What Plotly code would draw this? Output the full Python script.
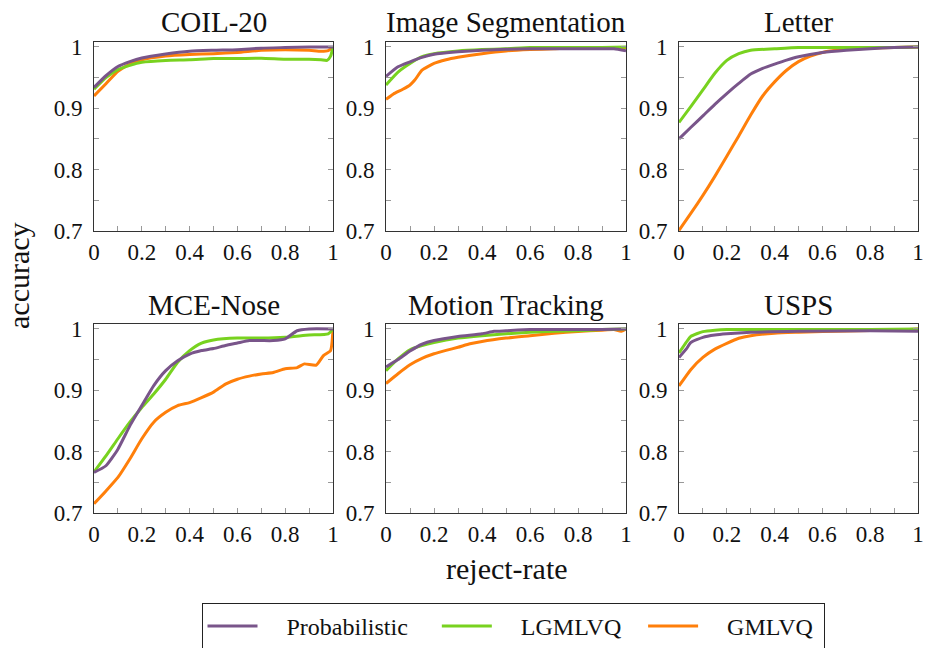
import plotly.graph_objects as go

W, H = 926, 648

titles = ["COIL-20", "Image Segmentation", "Letter", "MCE-Nose", "Motion Tracking", "USPS"]
series_names = ["Probabilistic", "LGMLVQ", "GMLVQ"]
colors = ["#79558a", "#78d21f", "#ff7f0a"]

x_tickvals = [0, 0.1, 0.2, 0.3, 0.4, 0.5, 0.6, 0.7, 0.8, 0.9, 1.0]
x_ticktext = ["0", "", "0.2", "", "0.4", "", "0.6", "", "0.8", "", "1"]
y_tickvals = [0.7, 0.75, 0.8, 0.85, 0.9, 0.95, 1.0]
y_ticktext = ["0.7", "", "0.8", "", "0.9", "", "1"]

# ---- COIL-20
coil_x_p = [0, 0.05, 0.1, 0.15, 0.2, 0.3, 0.4, 0.5, 0.6, 0.7, 0.8, 0.9, 1.0]
coil_y_p = [0.934, 0.953, 0.968, 0.976, 0.982, 0.9885, 0.993, 0.9945, 0.9955, 0.998, 0.999, 1.0, 1.0]
coil_x_l = [0, 0.05, 0.1, 0.15, 0.2, 0.3, 0.4, 0.5, 0.6, 0.7, 0.8, 0.9, 0.95, 0.975, 0.99, 1.0]
coil_y_l = [0.931, 0.950, 0.963, 0.970, 0.975, 0.978, 0.979, 0.981, 0.981, 0.9815, 0.980, 0.980, 0.979, 0.978, 0.985, 1.0]
coil_x_g = [0, 0.05, 0.1, 0.15, 0.2, 0.3, 0.4, 0.5, 0.6, 0.7, 0.8, 0.9, 0.95, 0.98, 1.0]
coil_y_g = [0.920, 0.940, 0.960, 0.972, 0.979, 0.985, 0.9875, 0.989, 0.991, 0.9945, 0.9955, 0.9945, 0.993, 0.994, 1.0]

# ---- Image Segmentation
seg_x_p = [0, 0.05, 0.1, 0.15, 0.2, 0.3, 0.4, 0.5, 0.6, 0.7, 0.8, 0.9, 0.95, 1.0]
seg_y_p = [0.952, 0.9676, 0.9757, 0.983, 0.988, 0.992, 0.9946, 0.996, 0.997, 0.997, 0.997, 0.997, 0.997, 0.9935]
seg_x_l = [0, 0.05, 0.1, 0.15, 0.2, 0.3, 0.4, 0.5, 0.6, 0.7, 0.8, 0.9, 1.0]
seg_y_l = [0.938, 0.959, 0.973, 0.984, 0.989, 0.9935, 0.9957, 0.997, 0.999, 0.999, 0.999, 0.999, 1.0]
seg_x_g = [0, 0.03, 0.07, 0.1, 0.12, 0.15, 0.2, 0.25, 0.3, 0.4, 0.5, 0.6, 0.7, 0.8, 0.9, 1.0]
seg_y_g = [0.9146, 0.923, 0.931, 0.938, 0.946, 0.962, 0.973, 0.979, 0.983, 0.989, 0.9935, 0.9957, 0.997, 0.999, 0.999, 0.999]

# ---- Letter
let_x_p = [0, 0.05, 0.1, 0.15, 0.2, 0.25, 0.3, 0.35, 0.4, 0.45, 0.5, 0.6, 0.7, 0.8, 0.9, 1.0]
let_y_p = [0.850, 0.869, 0.8876, 0.9065, 0.924, 0.9405, 0.9557, 0.965, 0.972, 0.9785, 0.984, 0.991, 0.9946, 0.997, 0.999, 1.0]
let_x_l = [0, 0.05, 0.1, 0.15, 0.2, 0.25, 0.3, 0.4, 0.5, 0.6, 0.7, 0.8, 0.9, 1.0]
let_y_l = [0.877, 0.903, 0.930, 0.957, 0.978, 0.989, 0.9946, 0.997, 0.999, 0.999, 0.999, 0.999, 0.999, 1.0]
let_x_g = [0, 0.05, 0.1, 0.15, 0.2, 0.25, 0.3, 0.35, 0.4, 0.45, 0.5, 0.55, 0.6, 0.7, 0.8, 0.9, 1.0]
let_y_g = [0.701, 0.729, 0.758, 0.789, 0.822, 0.855, 0.889, 0.920, 0.943, 0.962, 0.976, 0.985, 0.991, 0.996, 0.998, 0.999, 1.0]

# ---- MCE-Nose
mce_x_p = [0, 0.05, 0.1, 0.15, 0.2, 0.25, 0.3, 0.35, 0.4, 0.45, 0.5, 0.55, 0.6, 0.65, 0.7, 0.75, 0.8, 0.85, 0.9, 1.0]
mce_y_p = [0.766, 0.777, 0.804, 0.842, 0.875, 0.9076, 0.932, 0.948, 0.959, 0.9647, 0.968, 0.973, 0.977, 0.981, 0.981, 0.981, 0.9837, 0.997, 1.0, 1.0]
mce_x_l = [0, 0.05, 0.1, 0.15, 0.2, 0.25, 0.3, 0.35, 0.4, 0.45, 0.5, 0.6, 0.7, 0.8, 0.9, 0.98, 1.0]
mce_y_l = [0.767, 0.793, 0.821, 0.848, 0.872, 0.894, 0.918, 0.9457, 0.9647, 0.977, 0.982, 0.985, 0.985, 0.9864, 0.990, 0.992, 1.0]
mce_x_g = [0, 0.05, 0.1, 0.15, 0.2, 0.25, 0.3, 0.35, 0.4, 0.45, 0.5, 0.55, 0.6, 0.65, 0.7, 0.75, 0.8, 0.85, 0.88, 0.93, 0.96, 0.99, 1.0]
mce_y_g = [0.715, 0.736, 0.758, 0.788, 0.821, 0.848, 0.864, 0.875, 0.880, 0.888, 0.897, 0.910, 0.918, 0.923, 0.9266, 0.929, 0.935, 0.937, 0.943, 0.941, 0.9565, 0.965, 1.0]

# ---- Motion Tracking
mot_x_p = [0, 0.05, 0.1, 0.15, 0.2, 0.3, 0.4, 0.45, 0.5, 0.6, 0.7, 0.8, 0.9, 1.0]
mot_y_p = [0.938, 0.950, 0.964, 0.975, 0.981, 0.9876, 0.992, 0.996, 0.997, 0.999, 0.999, 0.999, 0.999, 1.0]
mot_x_l = [0, 0.05, 0.1, 0.15, 0.2, 0.3, 0.4, 0.5, 0.6, 0.7, 0.8, 0.9, 1.0]
mot_y_l = [0.932, 0.951, 0.966, 0.973, 0.978, 0.985, 0.989, 0.992, 0.9946, 0.996, 0.997, 0.999, 1.0]
mot_x_g = [0, 0.05, 0.1, 0.15, 0.2, 0.25, 0.3, 0.35, 0.4, 0.5, 0.6, 0.7, 0.8, 0.9, 0.95, 0.98, 1.0]
mot_y_g = [0.911, 0.927, 0.9416, 0.952, 0.9595, 0.965, 0.970, 0.9757, 0.9795, 0.985, 0.989, 0.993, 0.9957, 0.998, 0.999, 0.996, 1.0]

# ---- USPS
usps_x_p = [0, 0.03, 0.05, 0.1, 0.15, 0.2, 0.3, 0.5, 0.8, 1.0]
usps_y_p = [0.9535, 0.967, 0.978, 0.9863, 0.990, 0.992, 0.9945, 0.996, 0.997, 0.996]
usps_x_l = [0, 0.03, 0.05, 0.1, 0.15, 0.2, 0.5, 0.8, 1.0]
usps_y_l = [0.9607, 0.978, 0.988, 0.9956, 0.998, 0.999, 0.999, 0.999, 1.0]
usps_x_g = [0, 0.05, 0.1, 0.15, 0.2, 0.25, 0.3, 0.4, 0.5, 0.7, 0.9, 1.0]
usps_y_g = [0.907, 0.934, 0.9535, 0.967, 0.9765, 0.9847, 0.989, 0.993, 0.9945, 0.9967, 0.998, 1.0]

panels = [
    [(coil_x_p, coil_y_p), (coil_x_l, coil_y_l), (coil_x_g, coil_y_g)],
    [(seg_x_p, seg_y_p), (seg_x_l, seg_y_l), (seg_x_g, seg_y_g)],
    [(let_x_p, let_y_p), (let_x_l, let_y_l), (let_x_g, let_y_g)],
    [(mce_x_p, mce_y_p), (mce_x_l, mce_y_l), (mce_x_g, mce_y_g)],
    [(mot_x_p, mot_y_p), (mot_x_l, mot_y_l), (mot_x_g, mot_y_g)],
    [(usps_x_p, usps_y_p), (usps_x_l, usps_y_l), (usps_x_g, usps_y_g)],
]

# pixel layout of each axis box
col_px = [(94, 333), (386, 626), (679, 918)]
row_px = [(42, 231), (324, 513)]
title_cy = [22, 305]

# legend label padding (en / thin spaces) to reproduce the entry spacing
lead_pad = "\u2002\u2002"
trail_pad = ["\u2002\u2002", "\u2002\u2009", "\u2009"]

FONT = "Liberation Serif"
fig = go.Figure()
annotations = []

for i, (title, data) in enumerate(zip(titles, panels)):
    r, c = divmod(i, 3)
    ax = "" if i == 0 else str(i + 1)
    x0, x1 = col_px[c]
    yt, yb = row_px[r]
    xd = [x0 / W, x1 / W]
    yd = [1 - yb / H, 1 - yt / H]
    for k in [2, 1, 0]:
        xs, ys = data[k]
        fig.add_trace(go.Scatter(
            x=xs, y=ys, mode="lines", name=lead_pad + series_names[k] + trail_pad[k],
            line=dict(color=colors[k], width=3, shape="spline", smoothing=0.5),
            xaxis="x" + ax, yaxis="y" + ax,
            showlegend=(i == 0), legendrank=k + 1, hoverinfo="skip",
        ))
    common = dict(showline=True, linecolor="#333333", linewidth=1, mirror=True,
                  ticks="inside", ticklen=5, tickcolor="#999999", tickwidth=1,
                  showgrid=False, zeroline=False, automargin=False,
                  tickfont=dict(family=FONT, size=23, color="#111111"))
    fig.update_layout(**{
        "xaxis" + ax: dict(domain=xd, range=[0, 1], tickmode="array",
                           tickvals=x_tickvals, ticktext=x_ticktext,
                           anchor="y" + ax, **common),
        "yaxis" + ax: dict(domain=yd, range=[0.7, 1.008], tickmode="array",
                           tickvals=y_tickvals, ticktext=y_ticktext,
                           anchor="x" + ax, ticklabelstandoff=6,
                           **{**common, "mirror": "ticks"}),
    })
    annotations.append(dict(text=title, x=(xd[0] + xd[1]) / 2, y=1 - title_cy[r] / H,
                            xref="paper", yref="paper", showarrow=False,
                            xanchor="center", yanchor="middle",
                            font=dict(family=FONT, size=29, color="#111111")))

annotations.append(dict(text="accuracy", x=18 / W, y=1 - 276 / H, xref="paper", yref="paper",
                        showarrow=False, textangle=-90, xanchor="center", yanchor="middle",
                        font=dict(family=FONT, size=30, color="#111111")))
annotations.append(dict(text="reject-rate", x=507 / W, y=1 - 568 / H, xref="paper", yref="paper",
                        showarrow=False, xanchor="center", yanchor="middle",
                        font=dict(family=FONT, size=30, color="#111111")))

fig.update_layout(
    template="none",
    width=W, height=H, margin=dict(l=0, r=0, t=0, b=0, autoexpand=False),
    paper_bgcolor="white", plot_bgcolor="white",
    annotations=annotations,
    legend=dict(orientation="h", x=513 / W, y=1 - 603 / H, xanchor="center", yanchor="top",
                bordercolor="#222222", borderwidth=1, bgcolor="white",
                font=dict(family=FONT, size=24, color="#111111"),
                itemwidth=50, traceorder="normal", tracegroupgap=0, itemclick=False),
)

fig.write_html("out.html", config={"displayModeBar": False, "staticPlot": True},
               post_script="document.body.style.margin='0';document.body.style.overflow='hidden';")
